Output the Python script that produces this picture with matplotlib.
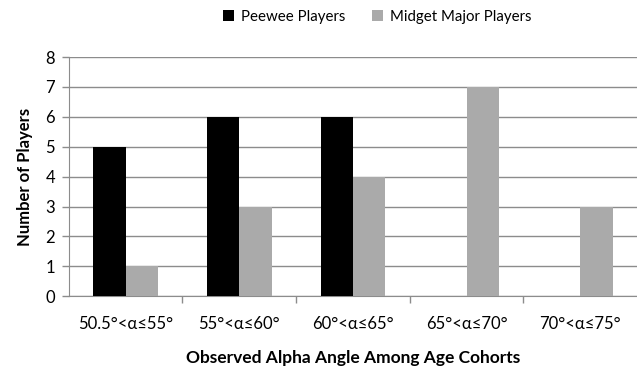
import numpy as np
import matplotlib.pyplot as plt

plt.rcParams['font.family'] = ['Lato', 'DejaVu Sans']

# data
categories = ["50.5°<α≤55°", "55°<α≤60°", "60°<α≤65°", "65°<α≤70°", "70°<α≤75°"]
peewee = [5, 6, 6, 0, 0]
midget = [1, 3, 4, 7, 3]

fig = plt.figure(figsize=(6.37, 3.73), dpi=100)
ax = fig.add_axes([0.108, 0.206, 0.892, 0.641])

x = np.arange(len(categories))
w = 0.285
ax.bar(x - w / 2, peewee, w, color="black", label="Peewee Players", zorder=3)
ax.bar(x + w / 2, midget, w, color="#aaaaaa", label="Midget Major Players", zorder=3)

ax.set_xlim(-0.5, len(categories) - 0.5)
ax.set_ylim(0, 8)
ax.set_yticks(range(0, 9))
ax.yaxis.grid(True, color="#8c8c8c", linewidth=1, zorder=0)

ax.set_xticks(x)
ax.set_xticklabels(categories, fontsize=12)
ax.set_xticks(np.arange(0.5, len(categories) - 0.5, 1), minor=True)
ax.tick_params(axis="x", which="major", length=0, pad=14)
ax.tick_params(axis="x", which="minor", length=5, color="#8c8c8c", width=1)
ax.tick_params(axis="y", length=5, color="#8c8c8c", width=1, labelsize=12, pad=5)

for s in ["top", "right"]:
    ax.spines[s].set_visible(False)
ax.spines["left"].set_color("#8c8c8c")
ax.spines["bottom"].set_color("#8c8c8c")

ax.set_ylabel("Number of Players", fontsize=12, fontweight="bold", labelpad=9)
ax.set_xlabel("Observed Alpha Angle Among Age Cohorts", fontsize=12.5, fontweight="bold", labelpad=13)

fig.legend(loc="upper center", bbox_to_anchor=(0.592, 1.01), ncol=2, frameon=False,
           fontsize=10.8, handlelength=0.75, handleheight=0.75, columnspacing=1.8, handletextpad=0.45)

plt.savefig("out.png", dpi=100)
